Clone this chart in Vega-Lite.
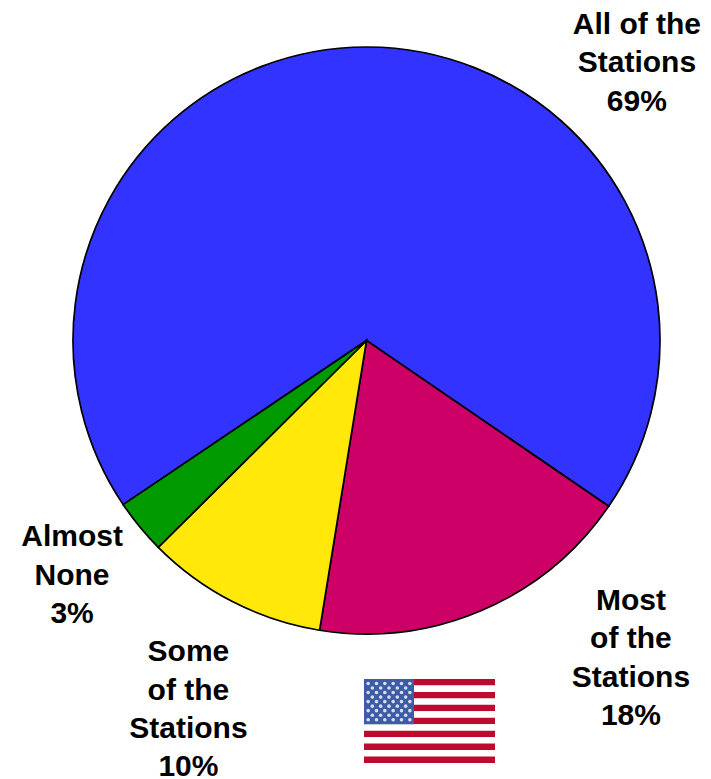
{
  "$schema": "https://vega.github.io/schema/vega-lite/v6.json",
  "width": 711,
  "height": 779,
  "padding": 0,
  "autosize": "none",
  "background": "white",
  "view": {"stroke": null},
  "datasets": {
    "slices": [
      {"rank": 1, "category": "All of the Stations", "share": 69, "label": "All of the\nStations\n69%", "labelAt": 45.72, "labelDist": 1.421},
      {"rank": 2, "category": "Most of the Stations", "share": 18, "label": "Most\nof the\nStations\n18%", "labelAt": 71.8, "labelDist": 1.267},
      {"rank": 3, "category": "Some of the Stations", "share": 10, "label": "Some\nof the\nStations\n10%", "labelAt": 92.7, "labelDist": 1.223},
      {"rank": 4, "category": "Almost None", "share": 3, "label": "Almost\nNone\n3%", "labelAt": 0.08, "labelDist": 1.206}
    ],
    "stripes": [
      {"top": 0, "bottom": 1, "left": 0, "right": 31.44, "part": "red"},
      {"top": 1, "bottom": 2, "left": 0, "right": 31.44, "part": "white"},
      {"top": 2, "bottom": 3, "left": 0, "right": 31.44, "part": "red"},
      {"top": 3, "bottom": 4, "left": 0, "right": 31.44, "part": "white"},
      {"top": 4, "bottom": 5, "left": 0, "right": 31.44, "part": "red"},
      {"top": 5, "bottom": 6, "left": 0, "right": 31.44, "part": "white"},
      {"top": 6, "bottom": 7, "left": 0, "right": 31.44, "part": "red"},
      {"top": 7, "bottom": 8, "left": 0, "right": 31.44, "part": "white"},
      {"top": 8, "bottom": 9, "left": 0, "right": 31.44, "part": "red"},
      {"top": 9, "bottom": 10, "left": 0, "right": 31.44, "part": "white"},
      {"top": 10, "bottom": 11, "left": 0, "right": 31.44, "part": "red"},
      {"top": 11, "bottom": 12, "left": 0, "right": 31.44, "part": "white"},
      {"top": 12, "bottom": 13, "left": 0, "right": 31.44, "part": "red"},
      {"top": 0, "bottom": 7, "left": 0, "right": 12, "part": "blue"}
    ],
    "stars": [
      {"col": 1, "row": 0.7}, {"col": 3, "row": 0.7}, {"col": 5, "row": 0.7}, {"col": 7, "row": 0.7}, {"col": 9, "row": 0.7}, {"col": 11, "row": 0.7},
      {"col": 2, "row": 1.4}, {"col": 4, "row": 1.4}, {"col": 6, "row": 1.4}, {"col": 8, "row": 1.4}, {"col": 10, "row": 1.4},
      {"col": 1, "row": 2.1}, {"col": 3, "row": 2.1}, {"col": 5, "row": 2.1}, {"col": 7, "row": 2.1}, {"col": 9, "row": 2.1}, {"col": 11, "row": 2.1},
      {"col": 2, "row": 2.8}, {"col": 4, "row": 2.8}, {"col": 6, "row": 2.8}, {"col": 8, "row": 2.8}, {"col": 10, "row": 2.8},
      {"col": 1, "row": 3.5}, {"col": 3, "row": 3.5}, {"col": 5, "row": 3.5}, {"col": 7, "row": 3.5}, {"col": 9, "row": 3.5}, {"col": 11, "row": 3.5},
      {"col": 2, "row": 4.2}, {"col": 4, "row": 4.2}, {"col": 6, "row": 4.2}, {"col": 8, "row": 4.2}, {"col": 10, "row": 4.2},
      {"col": 1, "row": 4.9}, {"col": 3, "row": 4.9}, {"col": 5, "row": 4.9}, {"col": 7, "row": 4.9}, {"col": 9, "row": 4.9}, {"col": 11, "row": 4.9},
      {"col": 2, "row": 5.6}, {"col": 4, "row": 5.6}, {"col": 6, "row": 5.6}, {"col": 8, "row": 5.6}, {"col": 10, "row": 5.6},
      {"col": 1, "row": 6.3}, {"col": 3, "row": 6.3}, {"col": 5, "row": 6.3}, {"col": 7, "row": 6.3}, {"col": 9, "row": 6.3}, {"col": 11, "row": 6.3}
    ]
  },
  "layer": [
    {
      "data": {"name": "slices"},
      "mark": {"type": "arc", "outerRadius": 293.5, "stroke": "black", "strokeWidth": 1.7, "strokeJoin": "miter"},
      "encoding": {
        "x": {"value": 366.5},
        "y": {"value": 340.5},
        "theta": {"field": "share", "type": "quantitative", "stack": true, "scale": {"domain": [0, 100], "range": [4.119, 10.402]}},
        "order": {"field": "rank", "type": "ordinal"},
        "color": {
          "field": "category",
          "type": "nominal",
          "legend": null,
          "scale": {
            "domain": ["All of the Stations", "Most of the Stations", "Some of the Stations", "Almost None"],
            "range": ["#3333ff", "#cc0066", "#ffe80a", "#009900"]
          }
        }
      }
    },
    {
      "data": {"name": "slices"},
      "mark": {"type": "text", "font": "Liberation Sans", "fontWeight": "bold", "fontSize": 30, "lineHeight": 38.4, "lineBreak": "\n", "align": "center", "baseline": "middle", "color": "black"},
      "encoding": {
        "x": {"value": 366},
        "y": {"value": 341},
        "theta": {"field": "labelAt", "type": "quantitative", "stack": false, "scale": {"domain": [0, 100], "range": [4.119, 10.402]}},
        "radius": {"field": "labelDist", "type": "quantitative", "scale": {"type": "linear", "zero": true, "domain": [0, 1], "range": [0, 293]}},
        "text": {"field": "label", "type": "nominal"}
      }
    },
    {
      "data": {"name": "stripes"},
      "mark": {"type": "rect"},
      "encoding": {
        "x": {"field": "left", "type": "quantitative", "axis": null, "scale": {"domain": [0, 31.44], "range": [364, 495]}},
        "x2": {"field": "right"},
        "y": {"field": "top", "type": "quantitative", "axis": null, "scale": {"domain": [0, 13], "range": [679, 763]}},
        "y2": {"field": "bottom"},
        "fill": {
          "field": "part",
          "type": "nominal",
          "legend": null,
          "scale": {"domain": ["red", "white", "blue"], "range": ["#bf0a30", "#ffffff", "#3c5ca8"]}
        }
      }
    },
    {
      "data": {"name": "stars"},
      "mark": {"type": "point", "filled": true, "color": "white", "opacity": 0.8, "size": 13},
      "encoding": {
        "x": {"field": "col", "type": "quantitative", "axis": null, "scale": {"domain": [0, 31.44], "range": [364, 495]}},
        "y": {"field": "row", "type": "quantitative", "axis": null, "scale": {"domain": [0, 13], "range": [679, 763]}}
      }
    }
  ]
}
